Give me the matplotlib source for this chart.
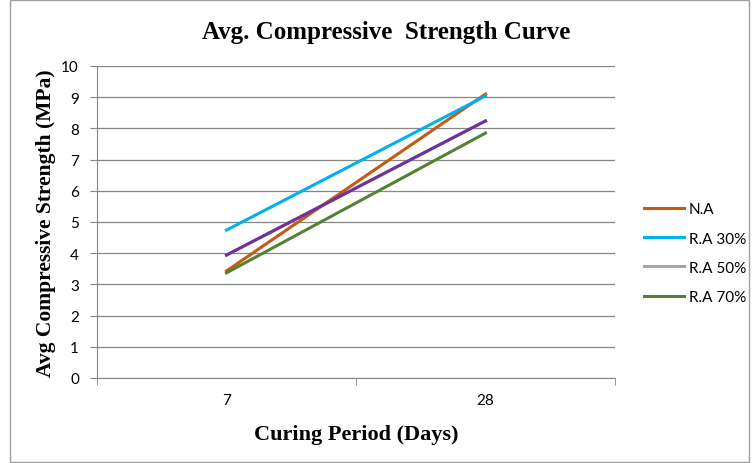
import matplotlib.pyplot as plt
from matplotlib.patches import Rectangle

days = ['7', '28']
na = [3.43, 9.10]
ra30 = [4.74, 9.04]
ra50 = [3.94, 8.24]
ra70 = [3.37, 7.85]
extra = [3.94, 8.24]  # purple line, no legend entry

fig = plt.figure(figsize=(7.52, 4.64), dpi=100)
ax = fig.add_axes([97 / 752, 1 - 379 / 464, 518 / 752, 312 / 464])

x = [0, 1]
ax.plot(x, na, color='#c55a11', lw=2.2, label='N.A', zorder=3)
ax.plot(x, ra30, color='#00b0f0', lw=2.2, label='R.A 30%', zorder=3)
ax.plot(x, ra50, color='#a5a5a5', lw=2.2, label='R.A 50%', zorder=2)
ax.plot(x, ra70, color='#548235', lw=2.2, label='R.A 70%', zorder=3)
ax.plot(x, extra, color='#7030a0', lw=2.2, zorder=3)

ax.set_xlim(-0.5, 1.5)
ax.set_ylim(0, 10)
ax.set_yticks(range(0, 11))
ax.set_xticks(x)
ax.set_xticklabels(days)
ax.set_xticks([-0.5, 0.5, 1.5], minor=True)
ax.tick_params(axis='x', which='major', length=0, pad=11)
ax.tick_params(axis='x', which='minor', length=5, color='#868686', direction='out')
ax.tick_params(axis='y', length=5, color='#868686', pad=8)
for lab in ax.get_xticklabels() + ax.get_yticklabels():
    lab.set_fontfamily('Lato')
    lab.set_fontsize(11)

ax.grid(axis='y', color='#868686', lw=0.9)
ax.set_axisbelow(True)
for s in ['top', 'right']:
    ax.spines[s].set_visible(False)
ax.spines['left'].set_color('#868686')
ax.spines['bottom'].set_color('#868686')

serif = {'family': 'Liberation Serif', 'weight': 'bold'}
fig.text(386 / 752, 1 - 32 / 464, 'Avg. Compressive  Strength Curve', fontdict=serif,
         fontsize=18, ha='center', va='center')
ax.set_xlabel('Curing Period (Days)', fontdict=serif, fontsize=16, labelpad=12)
ax.set_ylabel('Avg Compressive Strength (MPa)', fontdict=serif, fontsize=15.5, labelpad=4)

leg = ax.legend(loc='center left', bbox_to_anchor=(1.03, 0.40), frameon=False,
                prop={'family': 'Lato', 'size': 11}, handlelength=2.6,
                labelspacing=1.0, handletextpad=0.3)

fig.patches.append(Rectangle((10 / 752, 0.003), 739 / 752, 0.995, transform=fig.transFigure,
                             fill=False, edgecolor='#a0a0a0', lw=1))

fig.savefig('out.png', dpi=100)
